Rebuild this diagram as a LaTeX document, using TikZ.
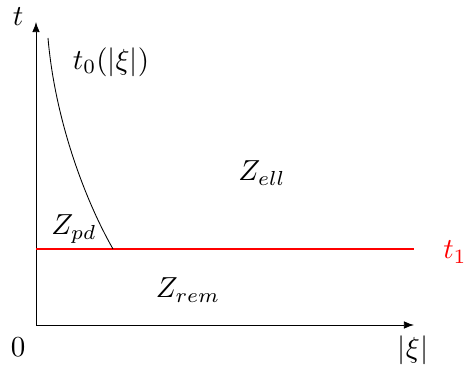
\documentclass[tikz,border=0pt]{standalone}
\usetikzlibrary{arrows.meta}
\begin{document}
\begin{tikzpicture}[x=0.345pt,y=-0.345pt,
  axis/.style={line width=0.3pt,-{Latex[length=3.5pt,width=2.6pt]}},
  lbl/.style={inner sep=0pt}]
\useasboundingbox (0,0) rectangle (466,367);
\coordinate (O) at (36,325);
\coordinate (Ytop) at (36,22);
\coordinate (Xend) at (414,325);
\coordinate (R0) at (36,249);
\coordinate (R1) at (414,249);
\coordinate (C0) at (48,38);
\coordinate (C1) at (113,249);
\draw[axis] (O) -- (Ytop);
\draw[axis] (O) -- (Xend);
\draw[red, line width=0.4pt] (R0) -- (R1);
\draw[line width=0.3pt] (C0) .. controls (55,120) and (85,200) .. (C1);
\node[lbl] (t) at (18,17) {$t$};
\node[lbl] (zero) at (18,347) {$0$};
\node[lbl] (xi) at (413,350) {$|\xi|$};
\node[lbl,text=red] (t1) at (455,252) {$t_1$};
\node[lbl] (t0) at (111,62) {$t_0(|\xi|)$};
\node[lbl] (zell) at (262,173) {$Z_{ell}$};
\node[lbl] (zpd) at (74,229) {$Z_{pd}$};
\node[lbl] (zrem) at (188,290) {$Z_{rem}$};
\end{tikzpicture}
\end{document}
